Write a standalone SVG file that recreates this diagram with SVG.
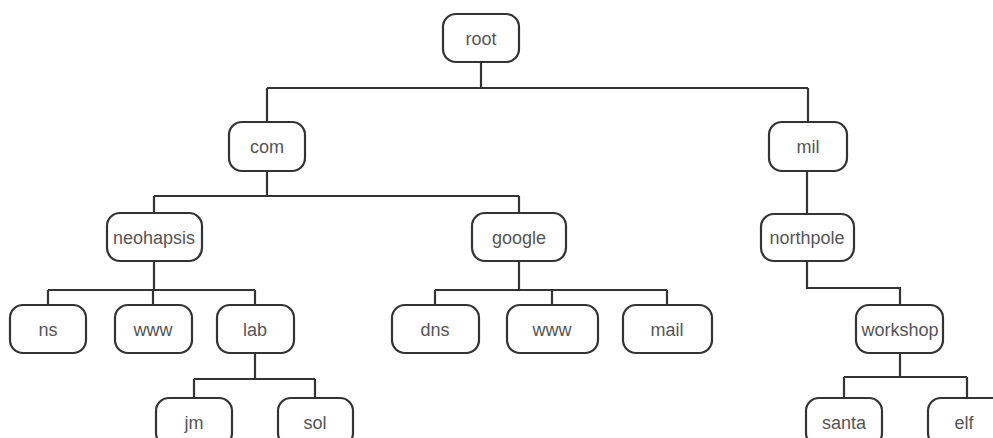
<svg xmlns="http://www.w3.org/2000/svg" width="993" height="438" viewBox="0 0 993 438">
<style>
.box{fill:#fff;stroke:#333;stroke-width:2.2}
.lbl{font-family:"Liberation Sans",Arial,sans-serif;font-size:18px;fill:#555;text-anchor:middle}
.conn{fill:none;stroke:#333;stroke-width:2.2}
</style>
<rect width="993" height="438" fill="#fff"/>
<g id="connectors" class="conn">
<path d="M481,62 V88 M267,88 H808 M267,88 V122 M808,88 V122"/>
<path d="M267,171 V196 M154,196 H519 M154,196 V213 M519,196 V213"/>
<path d="M154,261 V290 M48,290 H255 M48,290 V305 M153,290 V305 M255,290 V305"/>
<path d="M519,261 V290 M435,290 H667 M435,290 V305 M552,290 V305 M667,290 V305"/>
<path d="M807,171 V214"/>
<path d="M807,261 V288 H900 V305"/>
<path d="M255,353 V379 M194,379 H315 M194,379 V398 M315,379 V398"/>
<path d="M900,353 V377 M844,377 H967 M844,377 V398 M967,377 V398"/>
</g>
<g id="root"><rect class="box" x="443" y="14" width="76" height="48" rx="13"/><text class="lbl" x="481" y="45">root</text></g>
<g id="com"><rect class="box" x="229" y="122" width="76" height="49" rx="13"/><text class="lbl" x="267" y="153">com</text></g>
<g id="mil"><rect class="box" x="769" y="122" width="78" height="49" rx="13"/><text class="lbl" x="808" y="153">mil</text></g>
<g id="neohapsis"><rect class="box" x="107" y="213" width="95" height="48" rx="13"/><text class="lbl" x="154" y="244">neohapsis</text></g>
<g id="google"><rect class="box" x="472" y="213" width="94" height="48" rx="13"/><text class="lbl" x="519" y="244">google</text></g>
<g id="northpole"><rect class="box" x="761" y="214" width="93" height="47" rx="13"/><text class="lbl" x="807" y="244">northpole</text></g>
<g id="ns"><rect class="box" x="10" y="305" width="76" height="48" rx="13"/><text class="lbl" x="48" y="336">ns</text></g>
<g id="www-neohapsis"><rect class="box" x="115" y="305" width="77" height="48" rx="13"/><text class="lbl" x="153" y="336">www</text></g>
<g id="lab"><rect class="box" x="217" y="305" width="77" height="48" rx="13"/><text class="lbl" x="255" y="336">lab</text></g>
<g id="dns"><rect class="box" x="392" y="305" width="87" height="48" rx="13"/><text class="lbl" x="435" y="336">dns</text></g>
<g id="www-google"><rect class="box" x="507" y="305" width="91" height="48" rx="13"/><text class="lbl" x="552" y="336">www</text></g>
<g id="mail"><rect class="box" x="623" y="305" width="89" height="48" rx="13"/><text class="lbl" x="667" y="336">mail</text></g>
<g id="workshop"><rect class="box" x="856" y="305" width="87" height="48" rx="13"/><text class="lbl" x="900" y="336">workshop</text></g>
<g id="jm"><rect class="box" x="156" y="398" width="76" height="48" rx="13"/><text class="lbl" x="194" y="429">jm</text></g>
<g id="sol"><rect class="box" x="278" y="398" width="75" height="48" rx="13"/><text class="lbl" x="315" y="429">sol</text></g>
<g id="santa"><rect class="box" x="806" y="398" width="76" height="48" rx="13"/><text class="lbl" x="844" y="429">santa</text></g>
<g id="elf"><rect class="box" x="928" y="398" width="78" height="48" rx="13"/><text class="lbl" x="964" y="429">elf</text></g>
</svg>
